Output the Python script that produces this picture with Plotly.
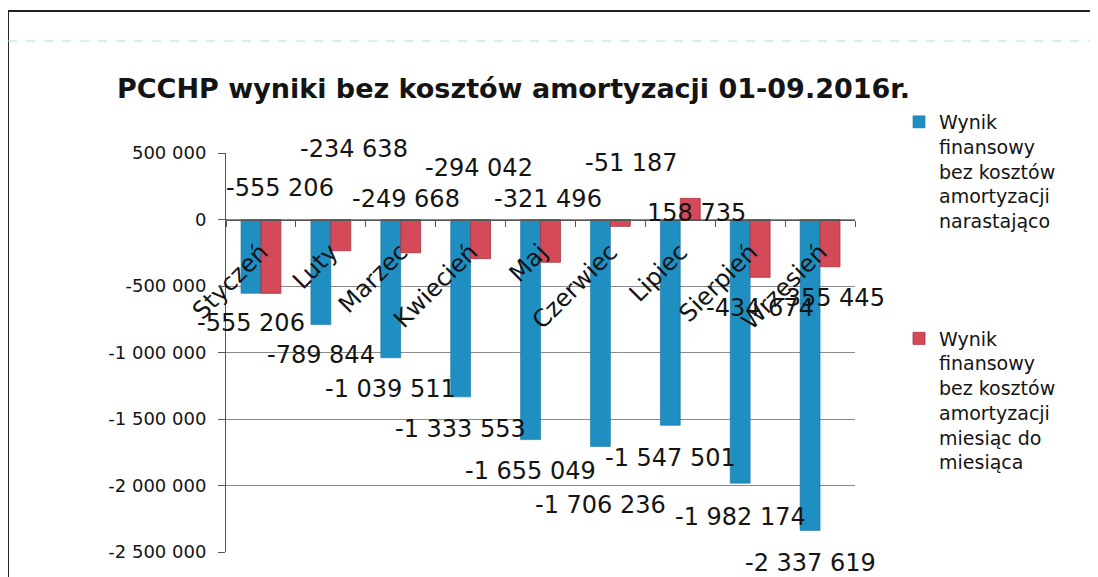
import plotly.graph_objects as go

months = ["Styczeń", "Luty", "Marzec", "Kwiecień", "Maj", "Czerwiec", "Lipiec", "Sierpień", "Wrzesień"]
cumulative = [-555206, -789844, -1039511, -1333553, -1655049, -1706236, -1547501, -1982174, -2337619]
monthly = [-555206, -234638, -249668, -294042, -321496, -51187, 158735, -434674, -355445]

y_tickvals = [500000, 0, -500000, -1000000, -1500000, -2000000, -2500000]
y_ticktext = ["500 000", "0", "-500 000", "-1 000 000", "-1 500 000", "-2 000 000", "-2 500 000"]

# label placement (pixel shifts) as positioned in the original chart
blue_label_dy = [-30, -30, -31, -32, -31, -59, -33, -34, -33]
red_label_dy = [32, 71, 21, 52, 21, 57, 7, -88, -78]   # measured from the zero line
red_label_dx = [19, 23, 5, 8, 7, 21, 16, 10, 11]

name_cum = "Wynik<br>finansowy<br>bez kosztów<br>amortyzacji<br>narastająco"
name_mon = "Wynik<br>finansowy<br>bez kosztów<br>amortyzacji<br>miesiąc do<br>miesiąca"

BLUE = "#1f8fc2"
RED = "#d44a59"
FONT = "DejaVu Sans"
TXT = "#141414"

# the page body adds an 8px offset; figure is sized to fit the 1098x577 window
W, H = 1090, 569
L, R, T, B = 218, 243, 145, 25
PW, PH = W - L - R, H - T - B


def fmt(v):
    s = f"{abs(v):,}".replace(",", " ")
    return ("-" if v < 0 else "") + s


def px(x):
    return (x - L) / PW


def py(y):
    return (H - B - y) / PH


fig = go.Figure()
fig.add_trace(go.Bar(x=months, y=cumulative, name=name_cum, legendgroup="a",
                     marker=dict(color=BLUE, line=dict(color="#1a729e", width=0.6))))
fig.add_trace(go.Bar(x=months, y=monthly, name=name_mon, legendgroup="b",
                     marker=dict(color=RED, line=dict(color="#a82f3d", width=0.8))))

annotations = []
for m, v, dy in zip(months, cumulative, blue_label_dy):
    annotations.append(dict(x=m, y=v, xref="x", yref="y", text=fmt(v), showarrow=False,
                            xshift=-10, yshift=dy, font=dict(family=FONT, size=24, color=TXT)))
for m, v, dy, dx in zip(months, monthly, red_label_dy, red_label_dx):
    annotations.append(dict(x=m, y=0, xref="x", yref="y", text=fmt(v), showarrow=False,
                            xshift=dx, yshift=dy, font=dict(family=FONT, size=24, color=TXT)))

fig.update_layout(
    width=W, height=H,
    margin=dict(l=L, r=R, t=T, b=B, autoexpand=False),
    paper_bgcolor="white", plot_bgcolor="white",
    barmode="group", bargap=0.43, bargroupgap=0,
    font=dict(family=FONT, size=18, color=TXT),
    title=dict(text="<b>PCCHP wyniki bez kosztów amortyzacji 01-09.2016r.</b>",
               x=109 / W, xanchor="left", y=1 - 81 / H, yanchor="middle",
               font=dict(family=FONT, size=27, color=TXT)),
    xaxis=dict(type="category", range=[-0.5, len(months) - 0.5], autorange=False,
               anchor="free", position=5 / 6, showline=True,
               linecolor="#555", linewidth=1, ticks="outside", tickson="boundaries",
               ticklen=6, tickcolor="#555", tickangle=-45, showgrid=False,
               ticklabelstandoff=8,
               tickfont=dict(family=FONT, size=24, color=TXT)),
    yaxis=dict(range=[-2500000, 500000], autorange=False,
               tickvals=y_tickvals, ticktext=y_ticktext,
               showgrid=True, gridcolor="#8a8a8a", gridwidth=1, zeroline=False,
               showline=True, linecolor="#555", ticks="outside", ticklen=7, tickcolor="#555",
               ticklabelstandoff=8,
               tickfont=dict(family=FONT, size=18, color=TXT)),
    legend=dict(x=px(891), y=py(95), xanchor="left", yanchor="top", valign="top",
                tracegroupgap=90, traceorder="grouped", maxheight=500,
                font=dict(family=FONT, size=19, color=TXT), bgcolor="rgba(0,0,0,0)"),
    annotations=annotations,
    shapes=[
        dict(type="rect", xref="paper", yref="paper",
             x0=px(0), x1=px(W + 20), y0=py(H + 20), y1=py(3),
             line=dict(color="#222", width=2), fillcolor="rgba(0,0,0,0)", layer="below"),
        dict(type="line", xref="paper", yref="paper",
             x0=px(0), x1=px(W), y0=py(33), y1=py(33),
             line=dict(color="#a6dff0", width=1, dash="dash"), layer="below"),
    ],
)

fig.write_html("out.html")
